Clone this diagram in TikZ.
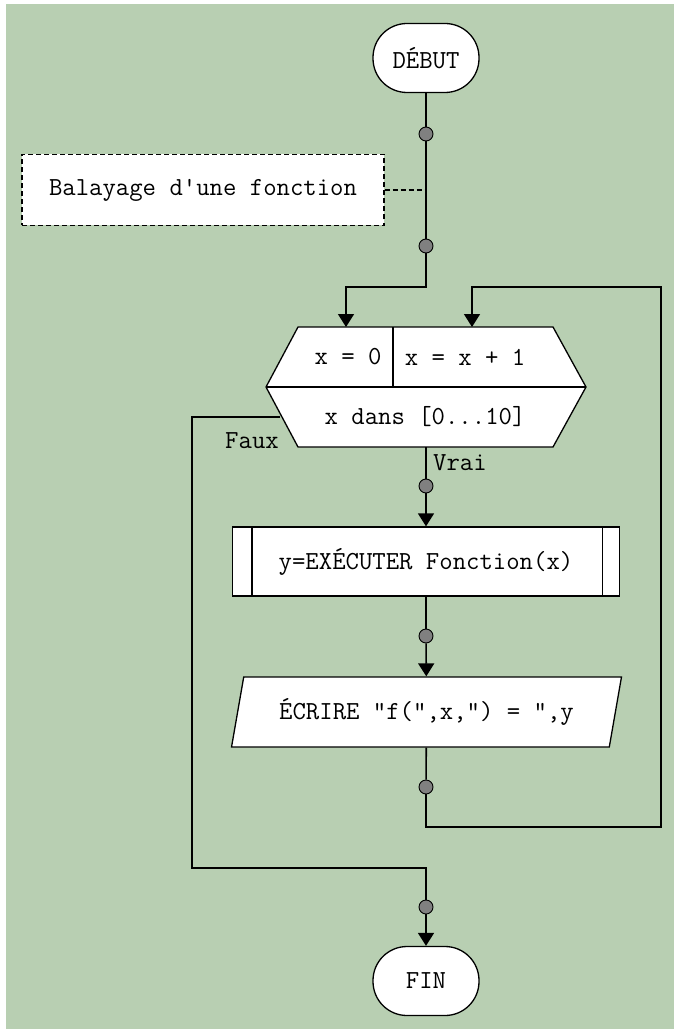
\documentclass[tikz,border=0pt]{standalone}
\usepackage{fontspec}
\usetikzlibrary{arrows.meta,shapes.geometric}

\definecolor{fond}{RGB}{184,207,178}
\definecolor{gris}{RGB}{128,128,128}

\tikzset{
  bloc/.style={draw, fill=white, line width=1.3pt, inner sep=0pt, font=\ttfamily\fontsize{26}{30}\selectfont},
  terminal/.style={bloc, rounded corners=34pt, minimum width=106pt, minimum height=69pt},
  texte/.style={inner sep=0pt, font=\ttfamily\fontsize{26}{30}\selectfont},
  pastille/.style={circle, draw, fill=gris, line width=0.9pt, inner sep=0pt, minimum size=14pt},
  lien/.style={line width=1.6pt},
  fleche/.style={lien, -{Triangle[length=13pt,width=16pt]}},
}

\begin{document}
\begin{tikzpicture}[x=1pt,y=-1pt]
    % fond
    \fill[white] (0,0) rectangle (674,1032);
    \fill[fond] (6,4) rectangle (674,1029);
    \useasboundingbox (0,0) rectangle (674,1032);

    % debut et commentaire
    \node[terminal] (debut) at (426,58) {DÉBUT};
    \node[pastille] (d1) at (426,134) {};
    \node[pastille] (d2) at (426,246) {};
    \node[bloc, dash pattern=on 5pt off 3pt, minimum width=362pt, minimum height=71pt] (note) at (203,190) {Balayage d'une fonction};
    \draw[lien] (debut) -- (d1);
    \draw[lien] (d1) -- (d2);
    \draw[lien, dash pattern=on 5pt off 3pt] (note.east) -- (note.east -| d1);

    % boucle pour
    \coordinate (entreeInit) at (346,327);
    \coordinate (entreeIncr) at (472,327);
    \coordinate (basBoucle) at (426,447);
    \coordinate (sortie) at (280,417);
    \filldraw[fill=white, line width=1.3pt] (298,327) -- (553,327) -- (586,387) -- (553,447) -- (298,447) -- (266,387) -- cycle;
    \draw[line width=1.3pt] (266,387) -- (586,387);
    \draw[line width=1.3pt] (393,327) -- (393,387);
    \node[texte] (init) at (348,357) {x = 0};
    \node[texte] (incr) at (465,357) {x = x + 1};
    \node[texte] (cond) at (425,417) {x dans [0...10]};
    \draw[fleche] (d2) |- ([yshift=40pt]entreeInit) -- (entreeInit);
    \node[texte, anchor=west] (vrai) at (433,463) {Vrai};
    \node[texte] (faux) at (252,441) {Faux};

    % corps de la boucle
    \node[pastille] (d3) at (426,486) {};
    \node[bloc, minimum width=387pt, minimum height=69pt] (appel) at (426,561.5) {y=EXÉCUTER Fonction(x)};
    \draw[line width=1.3pt] ([xshift=20pt]appel.north west) -- ([xshift=20pt]appel.south west);
    \draw[line width=1.3pt] ([xshift=-18pt]appel.north east) -- ([xshift=-18pt]appel.south east);
    \node[pastille] (d4) at (426,636) {};
    \node[bloc, trapezium, trapezium left angle=70, trapezium right angle=110, trapezium stretches,
          minimum width=391pt, minimum height=70pt] (ecrire) at (426.5,712) {ÉCRIRE "f(",x,") = ",y};
    \node[pastille] (d5) at (426,787) {};
    \draw[lien] (basBoucle) -- (d3);
    \draw[fleche] (d3) -- (appel);
    \draw[lien] (appel) -- (d4);
    \draw[fleche] (d4) -- (ecrire);
    \draw[lien] (ecrire) -- (d5);

    % retour et sortie
    \coordinate (retourBas) at (661,827);
    \coordinate (retourHaut) at (661,287);
    \coordinate (coinFaux) at (192,868);
    \draw[fleche] (d5) |- (retourBas) -- (retourHaut) -| (entreeIncr);
    \node[pastille] (d6) at (426,907) {};
    \node[terminal] (fin) at (426,981) {FIN};
    \draw[lien] (sortie) -| (coinFaux) -| (d6);
    \draw[fleche] (d6) -- (fin);
\end{tikzpicture}
\end{document}
